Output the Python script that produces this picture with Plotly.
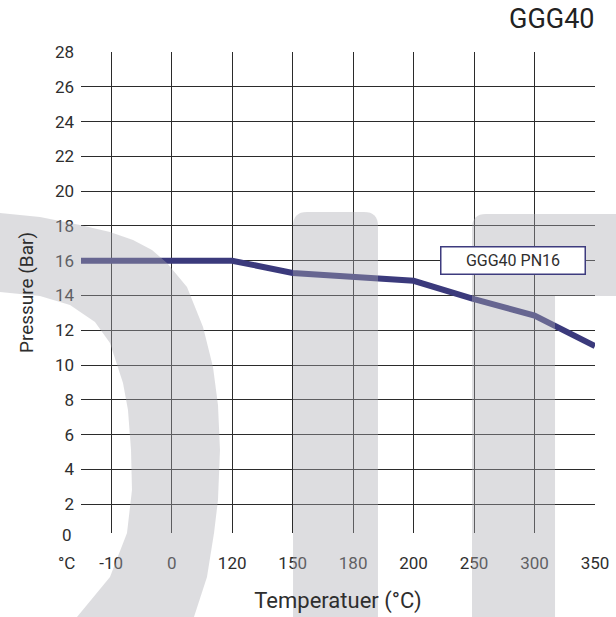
import plotly.graph_objects as go

# ---- data ----
chart_title = "GGG40"
series_name = "GGG40 PN16"
unit_label = "°C"
temperatures = ["-10", "0", "120", "150", "180", "200", "250", "300", "350"]
pressure_bar = [16, 16, 16, 15.3, 15.1, 14.85, 13.8, 12.85, 11.1]
start_pressure = 16          # value at the axis origin (left edge)
y_ticks = list(range(2, 29, 2))
y_zero_label = "0"

# ---- geometry ----
W, H = 616, 617
ML, MR, MT, MB = 81, 21, 52, 84
PW, PH = W - ML - MR, H - MT - MB
X_MIN, X_MAX = -0.5, len(temperatures) - 1
Y_MIN, Y_MAX = 0.35, 28

FONT = "Roboto"
TXT = "#2e2e2e"
GRID = "#2b2b2b"
LINE = "#3b3a7c"


def px2paper(px, py):
    return (px - ML) / PW, (H - MB - py) / PH


def path_from(points, close=True):
    parts = []
    for i, (px, py) in enumerate(points):
        x, y = px2paper(px, py)
        parts.append(("M" if i == 0 else "L") + f"{x:.4f},{y:.4f}")
    return " ".join(parts) + (" Z" if close else "")


def rounded_path(cmds):
    out = []
    for c in cmds:
        if c[0] == "Z":
            out.append("Z")
            continue
        s = []
        for (px, py) in c[1:]:
            x, y = px2paper(px, py)
            s.append(f"{x:.4f},{y:.4f}")
        out.append(c[0] + " ".join(s))
    return " ".join(out)


x_idx = list(range(len(temperatures)))

fig = go.Figure()
fig.add_trace(go.Scatter(
    x=[X_MIN] + x_idx,
    y=[start_pressure] + pressure_bar,
    mode="lines",
    line=dict(color=LINE, width=6),
    name=series_name,
    showlegend=False,
    hoverinfo="skip",
    cliponaxis=False,
))

# watermark shapes (decorative)
wm = dict(type="path", xref="paper", yref="paper", layer="above",
          fillcolor="rgb(170,170,177)", opacity=0.4, line=dict(width=0))
outer = [(-30, 209), (0, 213), (40, 217), (80, 225), (110, 232), (133, 240),
         (152, 250), (167, 263), (187, 287), (203, 327), (213, 367), (218, 405),
         (220, 450), (218, 500), (214, 533), (207, 577), (194, 617), (185, 640)]
inner = [(62, 640), (77, 617), (110, 577), (127, 533), (132, 490), (131, 450),
         (128, 410), (123, 383), (110, 343), (95, 322), (70, 305), (40, 296),
         (0, 292), (-30, 290)]
shapes = [dict(wm, path=path_from(outer + inner))]
bar = [("M", (293, 640)), ("L", (293, 226)), ("Q", (293, 212), (307, 212)),
       ("L", (364, 212)), ("Q", (378, 212), (378, 226)), ("L", (378, 640)), ("Z",)]
shapes.append(dict(wm, path=rounded_path(bar)))
tee = [("M", (472, 640)), ("L", (472, 228)), ("Q", (472, 214), (486, 214)),
       ("L", (640, 214)), ("L", (640, 296)), ("L", (555, 296)), ("L", (555, 640)), ("Z",)]
shapes.append(dict(wm, path=rounded_path(tee)))

annotations = [
    dict(text=chart_title, xref="paper", yref="paper",
         x=px2paper(597, 0)[0], y=px2paper(0, 19)[1], xanchor="right", yanchor="middle",
         showarrow=False, font=dict(family=FONT, size=27, color="#222222")),
    dict(text=series_name, xref="paper", yref="paper",
         x=px2paper(513, 0)[0], y=px2paper(0, 260)[1], xanchor="center", yanchor="middle",
         showarrow=False, bgcolor="white", bordercolor="#3d3b7e", borderwidth=1.5,
         borderpad=2, width=139, height=22,
         font=dict(family=FONT, size=16, color=TXT)),
    dict(text=unit_label, xref="paper", yref="paper",
         x=px2paper(66, 0)[0], y=px2paper(0, 563)[1], xanchor="center", yanchor="middle",
         showarrow=False, font=dict(family=FONT, size=17, color=TXT)),
    dict(text=y_zero_label, xref="paper", yref="paper",
         x=px2paper(74, 0)[0], y=px2paper(0, 535)[1], xanchor="right", yanchor="middle",
         showarrow=False, font=dict(family=FONT, size=17, color=TXT)),
]

fig.update_layout(
    width=W, height=H, autosize=False,
    margin=dict(l=ML, r=MR, t=MT, b=MB, pad=0, autoexpand=False),
    paper_bgcolor="white", plot_bgcolor="white",
    font=dict(family=FONT, color=TXT),
    shapes=shapes,
    annotations=annotations,
    showlegend=False,
    hovermode=False,
)
fig.update_xaxes(
    range=[X_MIN, X_MAX], tickmode="array", tickvals=x_idx, ticktext=temperatures,
    showgrid=True, gridcolor=GRID, gridwidth=1.2, zeroline=False, showline=False,
    automargin=False,
    ticks="", ticklabelstandoff=18, tickfont=dict(family=FONT, size=17, color=TXT),
    title=dict(text="Temperatuer (°C)", font=dict(family=FONT, size=22, color=TXT), standoff=20),
    fixedrange=True,
)
fig.update_yaxes(
    range=[Y_MIN, Y_MAX], tickmode="array", tickvals=y_ticks,
    showgrid=True, gridcolor=GRID, gridwidth=1.2, zeroline=False, showline=False,
    automargin=False,
    ticks="", ticklabelstandoff=6, tickfont=dict(family=FONT, size=17, color=TXT),
    title=dict(text="Pressure (Bar)", font=dict(family=FONT, size=19, color=TXT), standoff=16),
    fixedrange=True,
)

fig.write_html("out.html", config={"displayModeBar": False},
               post_script="document.body.style.margin='0';document.body.style.overflow='hidden';")
